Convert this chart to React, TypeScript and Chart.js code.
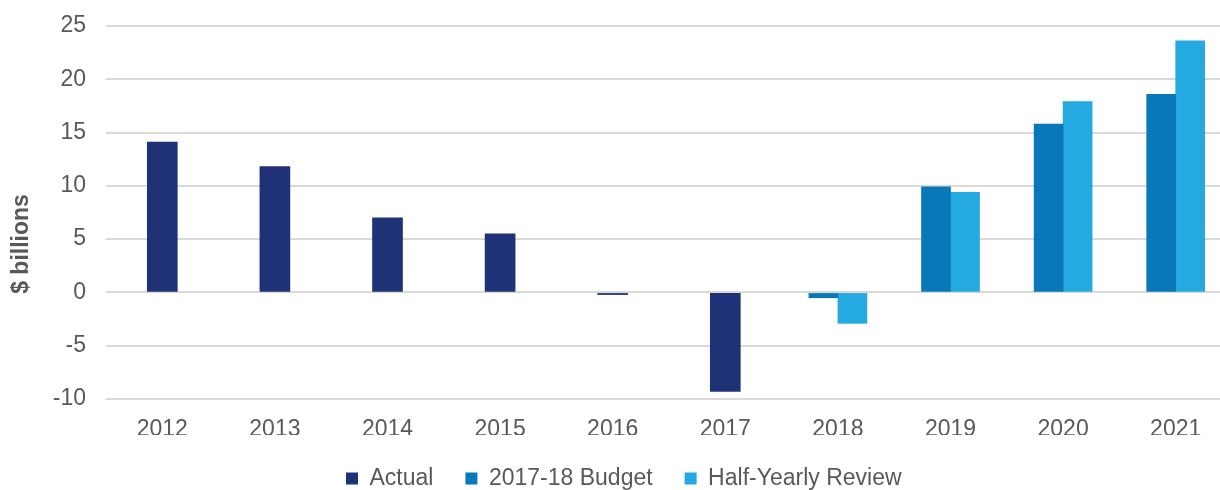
import React, { useEffect, useRef } from "react";
import { Chart, registerables } from "chart.js";

Chart.register(...registerables);

const categories = ["2012", "2013", "2014", "2015", "2016", "2017", "2018", "2019", "2020", "2021"];
const actual = [14.1, 11.8, 7.0, 5.5, -0.2, -9.3, null, null, null, null];
const budget = [null, null, null, null, null, null, -0.5, 9.9, 15.8, 18.6];
const review = [null, null, null, null, null, null, -2.9, 9.4, 17.9, 23.6];
const seriesNames = ["Actual", "2017-18 Budget", "Half-Yearly Review"];
const seriesColors = ["#1f3278", "#0878b8", "#24a9e0"];
const yMin = -10;
const yMax = 25;
const yStep = 5;
const yAxisTitle = "$ billions";

const TEXT = "#595959";
const FONT = '"Liberation Sans", Arial, sans-serif';

export default function App() {
  const ref = useRef<HTMLCanvasElement | null>(null);

  useEffect(() => {
    if (!ref.current) return;

    const titlePlugin = {
      id: "yTitle",
      afterDraw(chart: any) {
        const ctx = chart.ctx;
        ctx.save();
        ctx.translate(22, 244);
        ctx.rotate(-Math.PI / 2);
        ctx.font = `bold 23px ${FONT}`;
        ctx.fillStyle = TEXT;
        ctx.textAlign = "center";
        ctx.textBaseline = "middle";
        ctx.fillText(yAxisTitle, 0, 0);
        ctx.restore();
      },
    };

    const legendShift = {
      id: "legendShift",
      afterLayout(chart: any) {
        const lg = chart.legend;
        if (!lg || !lg.lineWidths) return;
        const pad = lg.options.labels.padding;
        const start = (lg.left + pad + lg.right - lg.lineWidths[0]) / 2;
        const shift = 346 - start;
        lg.left += shift;
        lg.right += shift;
      },
    };

    const chart = new Chart(ref.current, {
      type: "bar",
      data: {
        labels: categories,
        datasets: [
          { label: seriesNames[0], data: actual, backgroundColor: seriesColors[0], barThickness: 30, skipNull: true },
          { label: seriesNames[1], data: budget, backgroundColor: seriesColors[1], barThickness: 29, skipNull: true },
          { label: seriesNames[2], data: review, backgroundColor: seriesColors[2], barThickness: 29, skipNull: true },
        ] as any,
      },
      options: {
        animation: false,
        responsive: false,
        maintainAspectRatio: false,
        layout: { padding: { top: 26, left: 0, right: 0, bottom: 0 } },
        plugins: {
          tooltip: { enabled: false },
          legend: {
            position: "bottom",
            labels: {
              boxWidth: 12,
              boxHeight: 12,
              padding: 32,
              color: TEXT,
              font: { family: FONT, size: 23 },
            },
          },
        },
        scales: {
          x: {
            grid: { display: false, drawTicks: false },
            border: { display: false },
            ticks: {
              color: TEXT,
              font: { family: FONT, size: 23 },
              padding: 17,
              maxRotation: 0,
              minRotation: 0,
              autoSkip: false,
            },
            afterFit(scale: any) {
              scale.height = 36;
            },
          },
          y: {
            min: yMin,
            max: yMax,
            grid: { color: "#d9d9d6", lineWidth: 2, drawTicks: false },
            border: { display: false },
            ticks: {
              stepSize: yStep,
              color: TEXT,
              font: { family: FONT, size: 23 },
              padding: 20,
            },
            afterFit(scale: any) {
              scale.width = 106;
              scale.paddingTop = 0;
              scale.paddingBottom = 0;
            },
          },
        },
      },
      plugins: [titlePlugin, legendShift],
    });

    return () => chart.destroy();
  }, []);

  return (
    <div style={{ position: "absolute", left: 0, top: 0, width: 1220, height: 490, overflow: "hidden", background: "#fff" }}>
      <div style={{ width: 1232, height: 500 }}>
        <canvas ref={ref} width={1232} height={500} style={{ width: 1232, height: 500, display: "block" }} />
      </div>
    </div>
  );
}
